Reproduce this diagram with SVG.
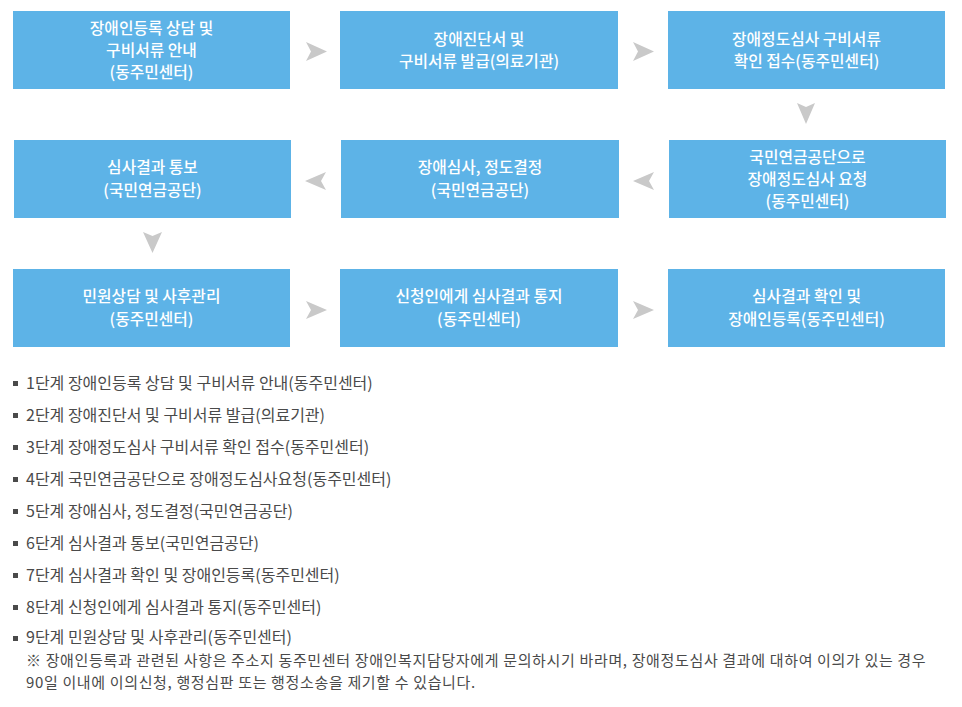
<svg xmlns="http://www.w3.org/2000/svg" width="962" height="707" viewBox="0 0 962 707">
<style>
.box{fill:#5db3e7}
.bt{font-family:"Noto Sans CJK KR","Noto Sans",sans-serif;font-size:15.8px;font-weight:500;fill:#ffffff;text-anchor:middle}
.arr{fill:#c9c9c9}
.li{font-family:"Noto Sans CJK KR","Noto Sans",sans-serif;font-size:16px;fill:#4a4a4a}
.note{font-family:"Noto Sans CJK KR","Noto Sans",sans-serif;font-size:15px;letter-spacing:0.65px;fill:#4a4a4a}
.bul{fill:#4a4a4a}
</style>
<rect width="962" height="707" fill="#ffffff"/>
<g id="node1"><rect class="box" x="13" y="11" width="277" height="78"/>
<text class="bt" x="151.5" y="34">장애인등록 상담 및</text>
<text class="bt" x="151.5" y="56">구비서류 안내</text>
<text class="bt" x="151.5" y="78">(동주민센터)</text></g>
<g id="node2"><rect class="box" x="340" y="11" width="278" height="78"/>
<text class="bt" x="479" y="45">장애진단서 및</text>
<text class="bt" x="479" y="67">구비서류 발급(의료기관)</text></g>
<g id="node3"><rect class="box" x="668" y="11" width="277" height="78"/>
<text class="bt" x="806.5" y="45">장애정도심사 구비서류</text>
<text class="bt" x="806.5" y="67">확인 접수(동주민센터)</text></g>
<g id="node4"><rect class="box" x="669" y="140" width="277" height="78"/>
<text class="bt" x="807.5" y="163">국민연금공단으로</text>
<text class="bt" x="807.5" y="185">장애정도심사 요청</text>
<text class="bt" x="807.5" y="207">(동주민센터)</text></g>
<g id="node5"><rect class="box" x="341" y="140" width="278" height="78"/>
<text class="bt" x="480" y="173">장애심사, 정도결정</text>
<text class="bt" x="480" y="196">(국민연금공단)</text></g>
<g id="node6"><rect class="box" x="14" y="140" width="277" height="78"/>
<text class="bt" x="152.5" y="173">심사결과 통보</text>
<text class="bt" x="152.5" y="196">(국민연금공단)</text></g>
<g id="node7"><rect class="box" x="668" y="269" width="277" height="78"/>
<text class="bt" x="806.5" y="302">심사결과 확인 및</text>
<text class="bt" x="806.5" y="325">장애인등록(동주민센터)</text></g>
<g id="node8"><rect class="box" x="340" y="269" width="278" height="78"/>
<text class="bt" x="479" y="302">신청인에게 심사결과 통지</text>
<text class="bt" x="479" y="325">(동주민센터)</text></g>
<g id="node9"><rect class="box" x="13" y="269" width="277" height="78"/>
<text class="bt" x="151.5" y="302">민원상담 및 사후관리</text>
<text class="bt" x="151.5" y="325">(동주민센터)</text></g>
<g id="connectors">
<path class="arr" d="M306,42 L327,51.5 L306,61 L311,51.5 Z"/>
<path class="arr" d="M633,42 L654,51.5 L633,61 L638,51.5 Z"/>
<path class="arr" d="M797,103 L806,107 L815,103 L806,124 Z"/>
<path class="arr" d="M654,172 L633,181 L654,190 L649,181 Z"/>
<path class="arr" d="M326,172 L305,181 L326,190 L321,181 Z"/>
<path class="arr" d="M143,232 L152.5,236 L162,232 L152.5,253 Z"/>
<path class="arr" d="M306,301 L327,310 L306,319 L311,310 Z"/>
<path class="arr" d="M633,301 L654,310 L633,319 L638,310 Z"/>
</g>
<g id="list">
<rect class="bul" x="13" y="381" width="5" height="5"/><text class="li" x="26" y="389">1단계 장애인등록 상담 및 구비서류 안내(동주민센터)</text>
<rect class="bul" x="13" y="413" width="5" height="5"/><text class="li" x="26" y="421">2단계 장애진단서 및 구비서류 발급(의료기관)</text>
<rect class="bul" x="13" y="445" width="5" height="5"/><text class="li" x="26" y="453">3단계 장애정도심사 구비서류 확인 접수(동주민센터)</text>
<rect class="bul" x="13" y="477" width="5" height="5"/><text class="li" x="26" y="485">4단계 국민연금공단으로 장애정도심사요청(동주민센터)</text>
<rect class="bul" x="13" y="509" width="5" height="5"/><text class="li" x="26" y="517">5단계 장애심사, 정도결정(국민연금공단)</text>
<rect class="bul" x="13" y="541" width="5" height="5"/><text class="li" x="26" y="549">6단계 심사결과 통보(국민연금공단)</text>
<rect class="bul" x="13" y="573" width="5" height="5"/><text class="li" x="26" y="581">7단계 심사결과 확인 및 장애인등록(동주민센터)</text>
<rect class="bul" x="13" y="605" width="5" height="5"/><text class="li" x="26" y="613">8단계 신청인에게 심사결과 통지(동주민센터)</text>
<rect class="bul" x="13" y="636" width="5" height="5"/><text class="li" x="26" y="643">9단계 민원상담 및 사후관리(동주민센터)</text>
<text class="note" x="26" y="665.5">※ 장애인등록과 관련된 사항은 주소지 동주민센터 장애인복지담당자에게 문의하시기 바라며, 장애정도심사 결과에 대하여 이의가 있는 경우</text>
<text class="note" x="26" y="687.5">90일 이내에 이의신청, 행정심판 또는 행정소송을 제기할 수 있습니다.</text>
</g>
</svg>
